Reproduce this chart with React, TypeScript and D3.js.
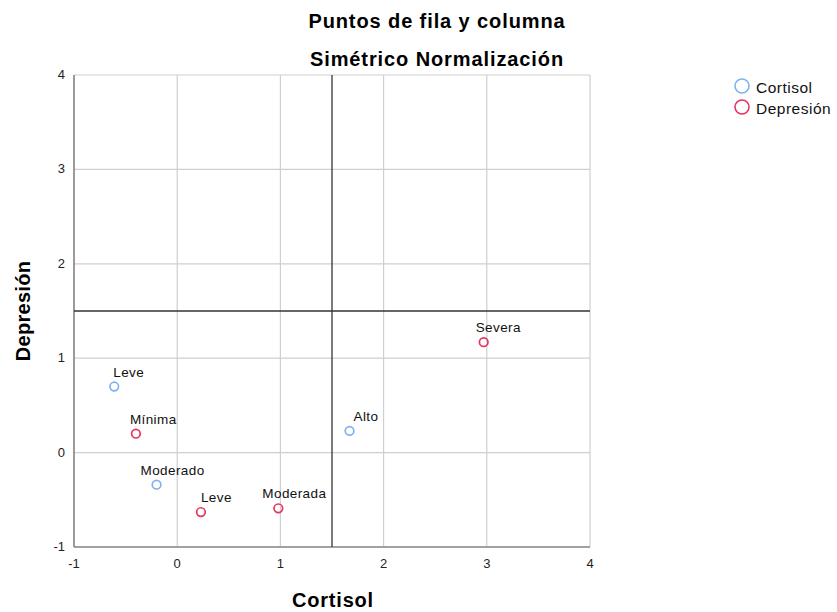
import React from "react";
import * as d3 from "d3";

// Row points (Cortisol) and column points (Depresión), symmetric normalization
const cortisolLabels = ["Leve", "Moderado", "Alto"];
const cortisolX = [-0.61, -0.2, 1.67];
const cortisolY = [0.7, -0.34, 0.23];

const depresionLabels = ["Mínima", "Leve", "Moderada", "Severa"];
const depresionX = [-0.4, 0.23, 0.98, 2.97];
const depresionY = [0.2, -0.63, -0.59, 1.17];

const xTicks = [-1, 0, 1, 2, 3, 4];
const yTicks = [-1, 0, 1, 2, 3, 4];
const refX = 1.5;
const refY = 1.5;

// label horizontal nudges (px) relative to each point
const cortisolLabelDx = [-1, -16, 4];
const depresionLabelDx = [-6, 0, -16, -8];

const W = 837;
const H = 612;
const left = 74, right = 590, top = 75, bottom = 547;
const blue = "#7FB2EE";
const red = "#E5355E";
const font = "Liberation Sans, Arial, sans-serif";

export default function App() {
  const x = d3.scaleLinear().domain([-1, 4]).range([left, right]);
  const y = d3.scaleLinear().domain([-1, 4]).range([bottom, top]);

  const pts = [
    ...cortisolLabels.map((l, i) => ({ label: l, x: cortisolX[i], y: cortisolY[i], c: blue, dx: cortisolLabelDx[i] })),
    ...depresionLabels.map((l, i) => ({ label: l, x: depresionX[i], y: depresionY[i], c: red, dx: depresionLabelDx[i] })),
  ];

  return (
    <svg width={W} height={H} style={{ position: "absolute", left: 0, top: 0 }} fontFamily={font}>
      <rect width={W} height={H} fill="#fff" />
      <text x={437} y={28} textAnchor="middle" fontSize={20} letterSpacing={0.9} fontWeight="bold" fill="#000">Puntos de fila y columna</text>
      <text x={437} y={66} textAnchor="middle" fontSize={20} letterSpacing={0.9} fontWeight="bold" fill="#000">Simétrico Normalización</text>

      {/* grid */}
      {xTicks.map((t) => (
        <line key={"gx" + t} x1={x(t)} x2={x(t)} y1={top} y2={bottom} stroke="#cfcfcf" strokeWidth={1.2} />
      ))}
      {yTicks.map((t) => (
        <line key={"gy" + t} x1={left} x2={right} y1={y(t)} y2={y(t)} stroke="#cfcfcf" strokeWidth={1.2} />
      ))}
      {/* axis lines */}
      <line x1={left} x2={left} y1={top} y2={bottom} stroke="#8a8a8a" strokeWidth={1.6} />
      <line x1={left} x2={right} y1={bottom} y2={bottom} stroke="#8a8a8a" strokeWidth={1.6} />

      {/* reference lines */}
      <line x1={x(refX)} x2={x(refX)} y1={top} y2={bottom} stroke="#333" strokeWidth={1.3} />
      <line x1={left} x2={right} y1={y(refY)} y2={y(refY)} stroke="#333" strokeWidth={1.3} />

      {/* tick labels */}
      {xTicks.map((t) => (
        <text key={"tx" + t} x={x(t)} y={bottom + 21} textAnchor="middle" fontSize={13} fill="#222">{t}</text>
      ))}
      {yTicks.map((t) => (
        <text key={"ty" + t} x={left - 9} y={y(t) + 4} textAnchor="end" fontSize={13} fill="#222">{t}</text>
      ))}

      {/* axis titles */}
      <text x={333} y={607} textAnchor="middle" fontSize={20} letterSpacing={0.8} fontWeight="bold" fill="#000">Cortisol</text>
      <text transform={`translate(30,${(top + bottom) / 2}) rotate(-90)`} textAnchor="middle" fontSize={20} letterSpacing={0.3} fontWeight="bold" fill="#000">Depresión</text>

      {/* points */}
      {pts.map((p, i) => (
        <g key={i}>
          <circle cx={x(p.x)} cy={y(p.y)} r={4.3} fill="none" stroke={p.c} strokeWidth={1.7} />
          <text x={x(p.x) + p.dx} y={y(p.y) - 10} fontSize={13.5} letterSpacing={0.4} fill="#111">{p.label}</text>
        </g>
      ))}

      {/* legend */}
      <circle cx={742} cy={86} r={7} fill="none" stroke={blue} strokeWidth={1.6} />
      <text x={756} y={93} fontSize={15.5} letterSpacing={0.5} fill="#111">Cortisol</text>
      <circle cx={742} cy={107} r={7} fill="none" stroke={red} strokeWidth={1.6} />
      <text x={756} y={114} fontSize={15.5} letterSpacing={0.5} fill="#111">Depresión</text>
    </svg>
  );
}
